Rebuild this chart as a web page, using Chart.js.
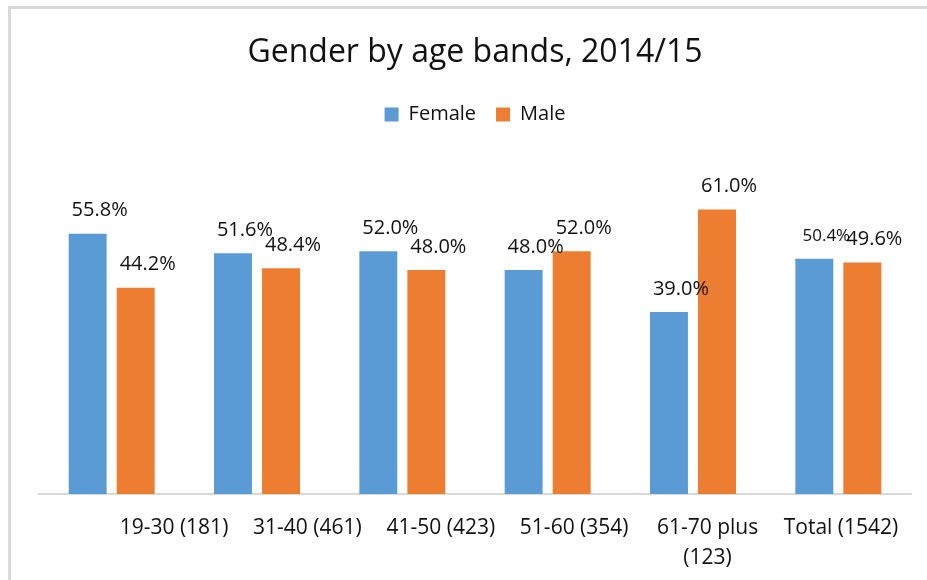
<!DOCTYPE html>
<html><head><meta charset="utf-8">
<script src="https://cdn.jsdelivr.net/npm/chart.js@4"></script>
<style>
html,body{margin:0;padding:0;background:#fff;}
#wrap{position:relative;width:927px;height:580px;overflow:hidden;}
#frame{position:absolute;left:8px;top:6px;width:1000px;height:1000px;border-left:3px solid #d9d9d9;border-top:3px solid #d9d9d9;}
canvas{position:absolute;left:0;top:0;}
</style></head><body>
<div id="wrap"><div id="frame"></div><canvas id="c" width="927" height="580"></canvas></div>
<script>
const categories = ['19-30 (181)', '31-40 (461)', '41-50 (423)', '51-60 (354)', ['61-70 plus', '(123)'], 'Total (1542)'];
const female = [55.8, 51.6, 52.0, 48.0, 39.0, 50.4];
const male = [44.2, 48.4, 48.0, 52.0, 61.0, 49.6];
const seriesNames = ['Female', 'Male'];
const titleText = 'Gender by age bands, 2014/15';
const yMax = 70;

Chart.defaults.font.family = '"Open Sans", sans-serif';

const valueLabels = {
  id: 'valueLabels',
  afterDatasetsDraw(chart, args, opts) {
    const ctx = chart.ctx;
    ctx.save();
    ctx.fillStyle = opts.color;
    ctx.textAlign = 'center';
    ctx.textBaseline = 'middle';
    chart.data.datasets.forEach((ds, di) => {
      const meta = chart.getDatasetMeta(di);
      meta.data.forEach((el, i) => {
        const small = opts.small.some(([d, j]) => d === di && j === i);
        ctx.font = (small ? opts.smallSize : opts.size) + 'px "Open Sans"';
        ctx.fillText(ds.data[i].toFixed(1) + '%', el.x + opts.dx, el.y - opts.dy);
      });
    });
    ctx.restore();
  }
};

const legendGap = {
  id: 'legendGap',
  beforeInit(chart) {
    const fit = chart.legend.fit;
    chart.legend.fit = function () { fit.call(this); this.height += 33; };
  }
};

new Chart(document.getElementById('c'), {
  type: 'bar',
  data: {
    labels: categories,
    datasets: [
      { label: seriesNames[0], data: female, backgroundColor: '#5B9BD5', borderWidth: 0, barPercentage: 0.79, categoryPercentage: 0.661 },
      { label: seriesNames[1], data: male, backgroundColor: '#ED7D31', borderWidth: 0, barPercentage: 0.79, categoryPercentage: 0.661 }
    ]
  },
  options: {
    responsive: false,
    animation: false,
    layout: { padding: { left: 39, right: 16, top: 0, bottom: -12 } },
    scales: {
      x: { display: false, offset: true, grid: { display: false } },
      xl: {
        type: 'linear', position: 'bottom', min: -1.012, max: 5.525, bounds: 'data', offset: false,
        afterBuildTicks: s => { s.ticks = categories.map((_, i) => ({ value: i })); },
        ticks: { callback: v => categories[v], autoSkip: false, maxRotation: 0, minRotation: 0,
                 font: { size: 21, lineHeight: 1.43 }, color: '#111', padding: 19 },
        grid: { display: false, drawTicks: false, offset: false },
        border: { display: true, color: '#d9d9d9', width: 2 }
      },
      y: { display: false, min: 0, max: yMax }
    },
    plugins: {
      title: { display: true, text: titleText, color: '#111', font: { size: 32, weight: 'normal' }, padding: { top: 34, bottom: 12 } },
      legend: { position: 'top', labels: { boxWidth: 14, boxHeight: 14, padding: 20, color: '#111', font: { size: 20 } } },
      tooltip: { enabled: false },
      valueLabels: { color: '#111', size: 20, smallSize: 17, small: [[0, 5]], dx: 12, dy: 23 }
    }
  },
  plugins: [valueLabels, legendGap]
});
</script>
</body></html>
